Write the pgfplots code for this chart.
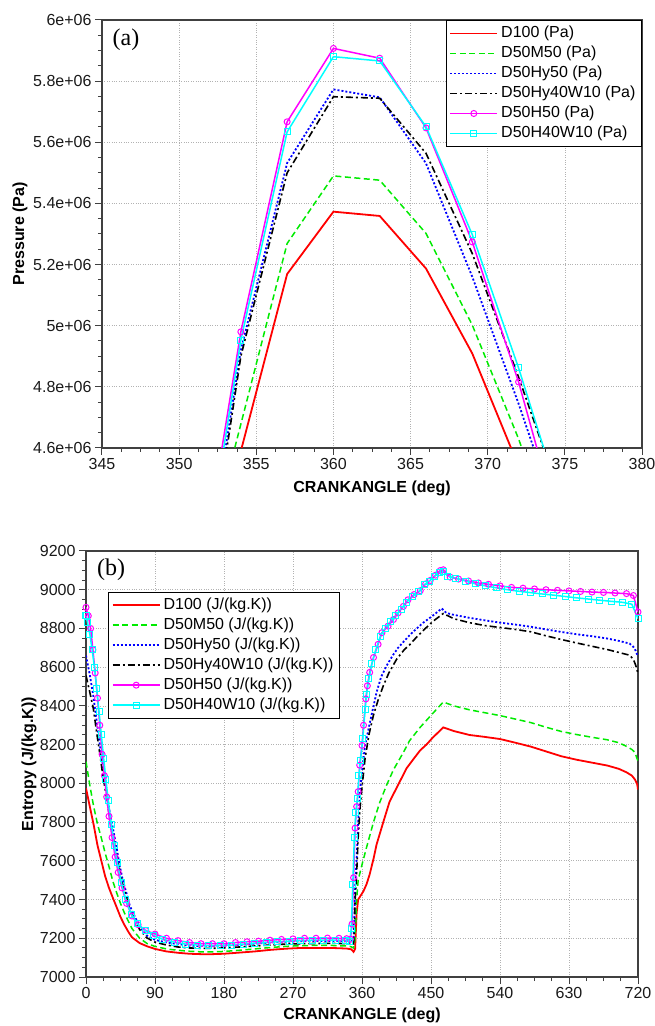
\documentclass[border=0pt]{standalone}
\usepackage{fontspec}
\setmainfont{Liberation Sans}
\newfontfamily\timesfont{Liberation Serif}
\usepackage{pgfplots}
\pgfplotsset{compat=1.18}

\definecolor{cRed}{RGB}{255,0,0}
\definecolor{cGreen}{RGB}{0,235,0}
\definecolor{cBlue}{RGB}{0,0,255}
\definecolor{cMag}{RGB}{255,0,255}
\definecolor{cCyan}{RGB}{0,255,255}
\definecolor{axgray}{RGB}{64,64,64}

\tikzset{
  sRed/.style={color=cRed, line width=1.8pt, solid},
  sGreen/.style={color=cGreen, line width=1.5pt, dash pattern=on 6pt off 3.5pt},
  sBlue/.style={color=cBlue, line width=1.8pt, dash pattern=on 2pt off 2pt},
  sBlack/.style={color=black, line width=1.6pt, dash pattern=on 7pt off 3pt on 2pt off 3pt},
  sMag/.style={color=cMag, line width=1.5pt, solid, mark=o, mark size=3pt, mark options={solid, line width=1pt, draw=cMag}},
  sCyan/.style={color=cCyan, line width=1.5pt, solid, mark=square, mark size=3pt, mark options={solid, line width=1pt, draw=cCyan}},
}

\pgfplotsset{
  myaxis/.style={
    scale only axis,
    axis line style={draw=axgray, line width=1.3pt},
    tick align=outside,
    xtick pos=bottom, ytick pos=left,
    major tick length=7pt, minor tick length=4pt,
    every tick/.style={draw=axgray, line width=1pt},
    minor tick num=3,
    grid=major,
    grid style={dotted, draw=gray!60, line width=0.7pt},
    tick label style={font=\fontsize{16}{16}\selectfont, text=black!90},
    /pgf/number format/assume math mode=true,
    /pgf/number format/1000 sep={},
    legend cell align=left,
    legend style={font=\fontsize{16}{16}\selectfont, draw=black, line width=1pt, fill=white,
      inner xsep=3pt, inner ysep=5pt, row sep=4pt,
      nodes={inner ysep=0pt, inner xsep=3pt, text height=12pt, text depth=4pt}},
    clip=true,
  },
  limg/.style={legend image code/.code={\draw[#1,mark repeat=2,mark phase=2] plot coordinates {(0pt,0pt) (23.5pt,0pt) (47pt,0pt)};}},
}

\begin{document}
\begin{tikzpicture}
\path[use as bounding box] (0,0) rectangle (654pt,1026pt);

% ---------------- (b) Entropy ----------------
\begin{axis}[myaxis,
  at={(86pt,49pt)}, anchor=south west,
  width=552pt, height=426pt,
  xmin=0, xmax=720, xtick={0,90,...,720},
  ymin=7000, ymax=9200, ytick={7000,7200,...,9200},
  xlabel={CRANKANGLE (deg)}, ylabel={Entropy (J/(kg.K))},
  every axis x label/.style={at={(axis description cs:0.5,-0.0892)}, anchor=center, font=\bfseries\fontsize{16}{16}\selectfont},
  every axis y label/.style={at={(axis description cs:-0.1033,0.5)}, anchor=center, rotate=90, font=\bfseries\fontsize{16}{16}\selectfont},
  legend style={at={(rel axis cs:0.0404,0.9045)}, anchor=north west},
]
\addplot[sRed, mark=none, limg=sRed] table {
0 7975
5 7880
10 7786
15 7680
20 7600
25 7520
30 7460
35 7409
40 7360
45 7310
50 7270
55 7235
60 7205
70 7175
80 7158
90 7145
105 7132
120 7125
135 7120
150 7118
165 7118
180 7120
200 7126
220 7132
240 7140
260 7146
280 7150
300 7150
320 7150
340 7147
346 7143
349 7130
351 7145
353 7330
355 7400
362 7444
366 7480
370 7530
375 7610
379 7684
388 7803
396 7906
407 7991
418 8077
428 8130
436 8171
444 8200
452 8235
466 8289
480 8270
500 8250
520 8240
540 8229
560 8210
580 8190
600 8165
620 8140
640 8122
660 8107
680 8092
695 8075
705 8057
712 8040
716 8020
719 7995
720 7968
};
\addlegendentry{D100 (J/(kg.K))}
\addplot[sGreen, mark=none, limg=sGreen] table {
0 8112
5 7990
10 7880
15 7790
20 7718
25 7640
30 7570
35 7495
40 7435
45 7380
50 7332
55 7290
60 7250
70 7200
80 7172
90 7158
105 7145
120 7138
135 7133
150 7130
165 7130
180 7132
200 7138
220 7145
240 7152
260 7158
280 7162
300 7163
320 7163
340 7160
346 7156
349 7150
351 7200
353 7400
355 7500
360 7580
366 7670
375 7800
383 7900
392 7990
401 8070
414 8160
422 8220
436 8290
452 8360
466 8420
480 8400
500 8380
520 8365
540 8350
560 8332
580 8314
600 8290
620 8268
640 8252
660 8238
680 8225
695 8210
705 8191
712 8175
716 8160
720 8114
};
\addlegendentry{D50M50 (J/(kg.K))}
\addplot[sBlue, mark=none, limg=sBlue] table {
0 8660
5 8560
9.6 8450
14 8320
18 8200
22 8090
27 7960
31 7850
36 7750
40 7665
44 7575
48 7500
53 7430
57 7370
62 7325
70 7260
79 7215
90 7192
105 7178
120 7170
135 7162
150 7160
165 7160
180 7162
200 7166
220 7172
240 7178
260 7182
280 7185
300 7186
320 7186
340 7185
346 7180
349 7200
350 7300
351 7450
353 7615
355 7800
357.4 7957
360 8060
364 8196
370.4 8316
379 8470
385 8550
392 8607
400 8660
407 8700
415 8735
422 8765
430 8795
440 8830
452 8865
464 8903
470 8880
480 8870
500 8855
520 8842
540 8830
560 8820
580 8809
600 8795
620 8782
640 8770
660 8760
680 8748
695 8736
709 8722
714 8705
717 8685
720 8654
};
\addlegendentry{D50Hy50 (J/(kg.K))}
\addplot[sBlack, mark=none, limg=sBlack] table {
0 8557
5 8470
9.6 8386
14 8260
18.3 8146
22 8040
27 7923
31 7820
35.6 7718
40 7630
44.3 7546
48 7475
53 7409
57 7350
61.7 7306
70 7245
79 7203
90 7180
105 7165
120 7155
135 7150
150 7148
165 7148
180 7150
200 7155
220 7160
240 7165
260 7170
280 7172
300 7173
320 7174
340 7172
346 7168
349 7170
350 7250
351 7400
353 7530
355 7720
357.4 7872
360 7980
364 8128
369 8250
374.8 8350
381 8430
387.8 8504
395 8570
405 8640
415 8690
422 8715
430 8750
440 8790
452 8835
466 8877
480 8850
500 8830
520 8815
540 8805
560 8795
580 8783
600 8762
620 8743
640 8725
660 8708
680 8691
695 8676
709 8662
714 8640
717 8610
720 8568
};
\addlegendentry{D50Hy40W10 (J/(kg.K))}
\addplot[sMag, limg=sMag] table {
0 8909
3 8865
6 8800
9 8690
12 8570
15 8440
18 8300
21 8150
24 8040
27 7930
30 7830
34 7720
38 7620
42 7540
47 7460
53 7380
60 7315
68 7270
78 7240
90 7222
105 7200
120 7188
135 7178
150 7172
165 7172
180 7172
195 7178
210 7182
225 7185
240 7190
255 7194
270 7197
285 7200
300 7200
315 7201
330 7200
340 7198
345 7195
347 7273
349 7513
351 7769
353 7880
355 7957
357 8094
360 8196
362 8300
365 8436
367 8504
370 8573
375 8650
381 8718
386 8778
394 8812
401 8846
407 8880
414 8914
420 8948
428 8975
436 8995
443 9030
449 9048
456 9075
462 9099
466 9103
475 9065
486 9055
499 9045
512 9035
525 9028
540 9020
555 9012
570 9008
585 9004
600 9000
615 8997
630 8994
645 8991
660 8988
675 8986
690 8983
705 8980
714 8970
720 8885
};
\addlegendentry{D50H50 (J/(kg.K))}
\addplot[sCyan, limg=sCyan] table {
0 8866
2 8830
5 8770
8 8690
11 8600
14 8490
17 8370
20 8250
23 8130
26 8020
29 7910
33 7790
37 7680
41 7590
46 7490
52 7400
59 7325
67 7275
77 7240
88 7215
100 7195
115 7180
130 7170
145 7165
160 7162
175 7163
190 7165
205 7170
220 7175
235 7178
250 7182
265 7185
280 7188
295 7190
310 7190
325 7190
338 7188
344 7185
346 7250
348 7480
350 7720
352 7850
354 7920
356 8040
358 8120
361 8230
364 8380
366 8460
369 8540
373 8620
378 8690
384 8760
390 8800
397 8835
404 8868
411 8900
418 8935
426 8965
434 8990
441 9025
448 9045
455 9070
461 9090
466 9095
472 9070
482 9060
495 9045
508 9030
521 9020
535 9010
550 9000
565 8992
580 8985
595 8978
610 8972
625 8965
640 8958
655 8952
670 8946
685 8940
700 8935
712 8925
720 8851
};
\addlegendentry{D50H40W10 (J/(kg.K))}
\node[font=\timesfont\fontsize{24}{24}\selectfont] at (rel axis cs:0.0453,0.9554) {(b)};
\end{axis}

% ---------------- (a) Pressure (values in units of 1e6 Pa) ----------------
\begin{axis}[myaxis,
  at={(102pt,578pt)}, anchor=south west,
  width=540pt, height=428pt,
  xmin=345, xmax=380, xtick={345,350,...,380},
  ymin=4.6, ymax=6.0,
  ytick={4.6,4.8,5.0,5.2,5.4,5.6,5.8,6.0},
  yticklabels={4.6e+06,4.8e+06,5e+06,5.2e+06,5.4e+06,5.6e+06,5.8e+06,6e+06},
  xlabel={CRANKANGLE (deg)}, ylabel={Pressure (Pa)},
  every axis x label/.style={at={(axis description cs:0.5,-0.0935)}, anchor=center, font=\bfseries\fontsize{16}{16}\selectfont},
  every axis y label/.style={at={(axis description cs:-0.152,0.5)}, anchor=center, rotate=90, font=\bfseries\fontsize{16}{16}\selectfont},
  legend style={at={(rel axis cs:1,1)}, anchor=north east},
]
\addplot[sRed, mark=none, limg=sRed] coordinates {(351,4.0) (354,4.59) (357,5.169) (360,5.373) (363,5.359) (366,5.187) (369,4.909) (372,4.54) (375,4.1)};
\addlegendentry{D100 (Pa)}
\addplot[sGreen, mark=none, limg=sGreen] coordinates {(351,4.09) (354,4.678) (357,5.269) (360,5.49) (363,5.476) (366,5.302) (369,5.002) (372,4.63) (375,4.2)};
\addlegendentry{D50M50 (Pa)}
\addplot[sBlue, mark=none, limg=sBlue] coordinates {(351,3.95) (354,4.92) (357,5.532) (360,5.773) (363,5.747) (366,5.531) (369,5.16) (372,4.745) (375,4.3)};
\addlegendentry{D50Hy50 (Pa)}
\addplot[sBlack, mark=none, limg=sBlack] coordinates {(351,3.9) (354,4.9) (357,5.5) (360,5.749) (363,5.744) (366,5.564) (369,5.236) (372,4.832) (375,4.4)};
\addlegendentry{D50Hy40W10 (Pa)}
\addplot[sMag, limg=sMag] coordinates {(351,4.05) (354,4.98) (357,5.667) (360,5.907) (363,5.875) (366,5.647) (369,5.274) (372,4.816) (375,4.27)};
\addlegendentry{D50H50 (Pa)}
\addplot[sCyan, limg=sCyan] coordinates {(351,4.0) (354,4.953) (357,5.634) (360,5.88) (363,5.866) (366,5.651) (369,5.298) (372,4.862) (375,4.38)};
\addlegendentry{D50H40W10 (Pa)}
\node[font=\timesfont\fontsize{24}{24}\selectfont] at (rel axis cs:0.0444,0.9533) {(a)};
\end{axis}
\end{tikzpicture}
\end{document}
